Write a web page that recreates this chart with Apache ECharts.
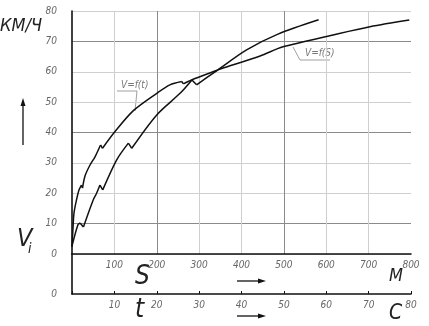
<!DOCTYPE html>
<html><head><meta charset="utf-8">
<script src="https://cdn.jsdelivr.net/npm/echarts@6/dist/echarts.min.js"></script>
<style>html,body{margin:0;padding:0;background:#fff}#c{width:429px;height:326px}</style>
</head><body><div id="c"></div>
<script>
// Speed axis (km/h)
const speedMin = 0, speedMax = 80, speedStep = 10;
// Distance axis S (m)
const distMin = 0, distMax = 800, distStep = 100;
// Time axis t (s)
const timeMin = 0, timeMax = 80, timeStep = 10;

// V = f(S): [S (m), V (km/h)]
const distS = [0, 2.4, 4.7, 10.6, 16.5, 22.4, 24.8, 30.7, 42.5, 54.3, 67.3, 72, 101.5, 144.8, 200, 231, 259, 263, 282, 341, 350, 444, 498, 616, 703, 796];
const speedS = [2.3, 8.6, 13.5, 17.8, 21.1, 22.7, 21.7, 25.7, 29.3, 32, 35.9, 34.8, 40.3, 47.2, 52.9, 55.7, 56.8, 56, 57.3, 60.4, 60.9, 65.2, 68.2, 72.1, 74.8, 77];

// V = f(t): [t (s), V (km/h)]
const timeT = [0, 1.4, 1.9, 2.7, 5.0, 5.8, 6.6, 7.25, 10.55, 13.3, 14.1, 20, 25.5, 28.3, 29.4, 34.2, 41.2, 48.6, 58.2];
const speedT = [2.6, 9.6, 10.2, 8.9, 17.8, 20, 22.7, 21.1, 31, 36.5, 34.8, 45.8, 52.9, 57.3, 55.7, 60.4, 67.2, 72.4, 77.1];

const labelFS = 'V=f(S)';
const labelFT = 'V=f(t)';

const FONT = "'Liberation Sans Narrow', 'DejaVu Sans Condensed', sans-serif";
const tickLabel = {fontFamily: FONT, fontStyle: 'italic', fontSize: 10, color: '#666'};

const chart = echarts.init(document.getElementById('c'), null, {renderer: 'canvas'});

// split a curve into monotone runs (gear-shift notches stay sharp, runs are smoothed)
function runs(xs, ys) {
  const out = [];
  let cur = [[xs[0], ys[0]]];
  let dir = 0;
  for (let i = 1; i < xs.length; i++) {
    const d = Math.sign(ys[i] - ys[i - 1]);
    if (dir !== 0 && d !== dir) {
      out.push(cur);
      cur = [[xs[i - 1], ys[i - 1]]];
    }
    dir = d;
    cur.push([xs[i], ys[i]]);
  }
  out.push(cur);
  return out;
}

function curveSeries(name, xs, ys, xAxisIndex) {
  return runs(xs, ys).map(seg => ({
    name: name, type: 'line', xAxisIndex: xAxisIndex, yAxisIndex: 0, data: seg,
    smooth: 0.3, showSymbol: false, symbol: 'none',
    lineStyle: {color: '#111', width: 1.5}
  }));
}

function bigText(text, left, top, size) {
  return {type: 'text', left: left, top: top,
    style: {text: text, fontFamily: FONT, fontStyle: 'italic', fontWeight: 'normal', fontSize: size, fill: '#222'}};
}

const option = {
  animation: false,
  backgroundColor: '#fff',
  grid: [
    {left: 72, top: 11, width: 339, height: 243},
    {left: 72, top: 254, width: 339, height: 40}
  ],
  xAxis: [
    {gridIndex: 0, type: 'value', min: distMin, max: distMax, interval: distStep,
     axisLine: {show: true, onZero: false, lineStyle: {color: '#111', width: 1.6}},
     axisTick: {show: false},
     axisLabel: Object.assign({margin: 6, formatter: v => v === 0 ? '' : String(v)}, tickLabel),
     splitLine: {show: true, showMinLine: false, showMaxLine: false, lineStyle: {color: ['#cfcfcf', '#8a8a8a', '#cfcfcf'], width: 1}}},
    {gridIndex: 0, type: 'value', min: timeMin, max: timeMax, show: false},
    {gridIndex: 1, type: 'value', min: timeMin, max: timeMax, interval: timeStep, position: 'bottom',
     axisLine: {show: true, onZero: false, lineStyle: {color: '#111', width: 1.6}},
     axisTick: {show: true, inside: true, length: 3, lineStyle: {color: '#111'}},
     axisLabel: Object.assign({margin: 6, formatter: v => v === 0 ? '' : String(v)}, tickLabel),
     splitLine: {show: false}}
  ],
  yAxis: [
    {gridIndex: 0, type: 'value', min: speedMin, max: speedMax, interval: speedStep,
     axisLine: {show: true, onZero: false, lineStyle: {color: '#111', width: 1.6}},
     axisTick: {show: false},
     axisLabel: Object.assign({margin: 15}, tickLabel),
     splitLine: {show: true, lineStyle: {color: ['#cfcfcf', '#8a8a8a', '#cfcfcf'], width: 1}}},
    {gridIndex: 1, type: 'value', min: 0, max: 1, interval: 1,
     axisLine: {show: true, onZero: false, lineStyle: {color: '#111', width: 1.6}},
     axisTick: {show: false},
     axisLabel: Object.assign({margin: 15, formatter: v => v === 0 ? '0' : ''}, tickLabel),
     splitLine: {show: false}}
  ],
  series: [].concat(
    curveSeries(labelFS, distS, speedS, 0),
    curveSeries(labelFT, timeT, speedT, 1)
  ),
  graphic: [
    bigText('КМ/Ч', 0, 17, 18),
    bigText('V', 17, 227, 25),
    bigText('i', 28, 242, 14),
    bigText('S', 135, 264, 26),
    bigText('t', 135, 297, 26),
    bigText('M', 389, 267, 18),
    bigText('C', 389, 303, 21),
    // arrows
    {type: 'line', shape: {x1: 23, y1: 145, x2: 23, y2: 103}, style: {stroke: '#111', lineWidth: 1.3}},
    {type: 'polygon', shape: {points: [[23, 98], [20.5, 106], [25.5, 106]]}, style: {fill: '#111'}},
    {type: 'line', shape: {x1: 237, y1: 281, x2: 260, y2: 281}, style: {stroke: '#111', lineWidth: 1.3}},
    {type: 'polygon', shape: {points: [[266, 281], [258, 278.5], [258, 283.5]]}, style: {fill: '#111'}},
    {type: 'line', shape: {x1: 237, y1: 316, x2: 260, y2: 316}, style: {stroke: '#111', lineWidth: 1.3}},
    {type: 'polygon', shape: {points: [[266, 316], [258, 313.5], [258, 318.5]]}, style: {fill: '#111'}},
    // curve labels with leaders
    {type: 'text', left: 121, top: 80, style: {text: labelFT, fontFamily: FONT, fontStyle: 'italic', fontSize: 10, fill: '#777'}},
    {type: 'polyline', shape: {points: [[117, 91], [137, 91], [135, 111]]}, style: {stroke: '#888', lineWidth: 0.8, fill: null}},
    {type: 'text', left: 305, top: 48, style: {text: labelFS, fontFamily: FONT, fontStyle: 'italic', fontSize: 10, fill: '#777'}},
    {type: 'polyline', shape: {points: [[293, 47], [300, 60], [330, 60]]}, style: {stroke: '#888', lineWidth: 0.8, fill: null}}
  ]
};
chart.setOption(option);
</script>
</body></html>
